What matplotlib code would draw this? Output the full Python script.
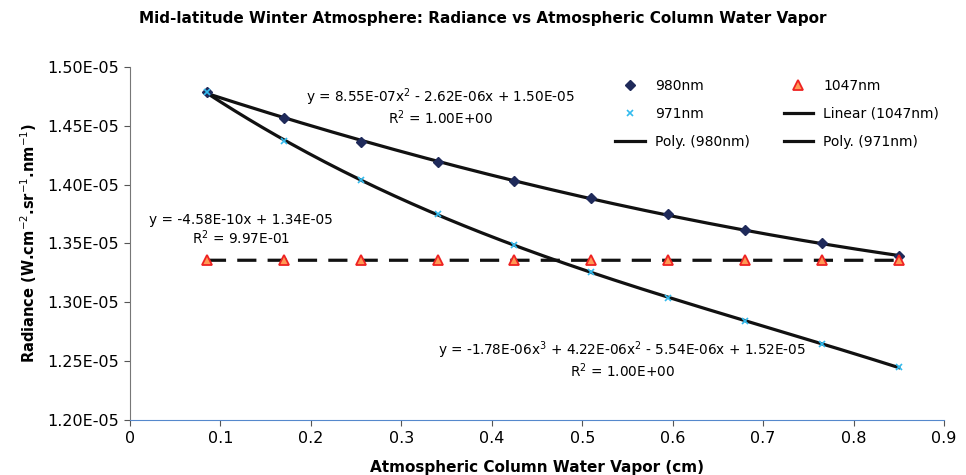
import numpy as np
import matplotlib as mpl
import matplotlib.pyplot as plt
from matplotlib.lines import Line2D

plt.rcParams['font.family'] = ['DejaVu Sans']
plt.rcParams['mathtext.fontset'] = 'dejavusans'

# column water vapour (cm)
cwv = [0.085, 0.17, 0.255, 0.34, 0.425, 0.51, 0.595, 0.68, 0.765, 0.85]

# radiance (W.cm-2.sr-1.nm-1)
rad_980 = [1.4784e-5, 1.4569e-5, 1.4366e-5, 1.4193e-5, 1.4033e-5,
           1.3884e-5, 1.3747e-5, 1.3617e-5, 1.3500e-5, 1.3391e-5]
rad_971 = [1.4784e-5, 1.4371e-5, 1.4040e-5, 1.3747e-5, 1.3488e-5,
           1.3258e-5, 1.3040e-5, 1.2840e-5, 1.2648e-5, 1.2447e-5]
rad_1047 = [1.3358e-5, 1.3357e-5, 1.3358e-5, 1.3357e-5, 1.3357e-5,
            1.3357e-5, 1.3358e-5, 1.3358e-5, 1.3357e-5, 1.3357e-5]

eq_980 = 'y = 8.55E-07x$^2$ - 2.62E-06x + 1.50E-05\nR$^2$ = 1.00E+00'
eq_1047 = 'y = -4.58E-10x + 1.34E-05\nR$^2$ = 9.97E-01'
eq_971 = 'y = -1.78E-06x$^3$ + 4.22E-06x$^2$ - 5.54E-06x + 1.52E-05\nR$^2$ = 1.00E+00'

fig = plt.figure(figsize=(9.66, 4.75), dpi=100)
ax = fig.add_axes([0.1346, 0.1158, 0.8426, 0.7432])

# trendlines (Excel style fits)
xx = np.linspace(cwv[0], cwv[-1], 200)
p980 = np.polyfit(cwv, rad_980, 2)
p971 = np.polyfit(cwv, rad_971, 3)
p1047 = np.polyfit(cwv, rad_1047, 1)

ax.plot(xx, np.polyval(p980, xx), color='#111111', lw=2.3, zorder=2)
ax.plot(xx, np.polyval(p971, xx), color='#111111', lw=2.3, zorder=2)
ax.plot(xx, np.polyval(p1047, xx), color='#111111', lw=2.3,
        dashes=(6, 3.5), zorder=2)

ax.plot(cwv, rad_980, ls='none', marker='D', ms=5, color='#1f2a5a', zorder=3)
ax.plot(cwv, rad_971, ls='none', marker='x', ms=4, mew=1.2, color='#33bbee', zorder=3)
ax.plot(cwv, rad_1047, ls='none', marker='^', ms=7, mfc='#ff9955',
        mec='#ee2222', mew=1.3, zorder=4)

ax.set_xlim(0, 0.9)
ax.set_ylim(1.2e-5, 1.5e-5)
ax.set_xticks(np.arange(0, 0.91, 0.1))
ax.set_xticklabels(['0', '0.1', '0.2', '0.3', '0.4', '0.5', '0.6', '0.7', '0.8', '0.9'])
yt = np.arange(1.20e-5, 1.501e-5, 0.05e-5)
ax.set_yticks(yt)
ax.set_yticklabels(['%.2fE-05' % (v * 1e5) for v in yt])
ax.tick_params(labelsize=11.5, length=4, color='#555555', pad=4)
for s in ['top', 'right']:
    ax.spines[s].set_visible(False)
ax.spines['left'].set_color('#777777')
ax.spines['bottom'].set_color('#5588cc')

ax.set_xlabel('Atmospheric Column Water Vapor (cm)', fontsize=11,
              fontweight='bold', labelpad=10)
ax.set_ylabel('Radiance (W.cm$^{-2}$.sr$^{-1}$.nm$^{-1}$)', fontsize=10.5,
              fontweight='bold', labelpad=6)
fig.text(0.5, 0.962, 'Mid-latitude Winter Atmosphere: Radiance vs Atmospheric Column Water Vapor',
         ha='center', va='center', fontsize=11, fontweight='bold')

ax.text(0.343, 1.466e-5, eq_980, ha='center', va='center', fontsize=9.8, linespacing=1.05)
ax.text(0.123, 1.3616e-5, eq_1047, ha='center', va='center', fontsize=9.8, linespacing=1.05)
ax.text(0.544, 1.2515e-5, eq_971, ha='center', va='center', fontsize=9.8, linespacing=1.05)

# legend (row order: 980/1047, 971/Linear, Poly 980/Poly 971)
h980 = Line2D([], [], ls='none', marker='D', ms=5, color='#1f2a5a')
h971 = Line2D([], [], ls='none', marker='x', ms=4, mew=1.2, color='#33bbee')
h1047 = Line2D([], [], ls='none', marker='^', ms=7, mfc='#ff9955', mec='#ee2222', mew=1.3)
hlin = Line2D([], [], color='#111111', lw=2.3)
hp980 = Line2D([], [], color='#111111', lw=2.3)
hp971 = Line2D([], [], color='#111111', lw=2.3)
ax.legend([h980, h971, hp980, h1047, hlin, hp971],
          ['980nm', '971nm', 'Poly. (980nm)', '1047nm', 'Linear (1047nm)', 'Poly. (971nm)'],
          ncol=2, frameon=False, loc='upper left', bbox_to_anchor=(0.581, 1.002),
          fontsize=10, handlelength=2.1, handletextpad=0.75, columnspacing=2.45,
          labelspacing=1.0)

fig.savefig('out.png', dpi=100)
